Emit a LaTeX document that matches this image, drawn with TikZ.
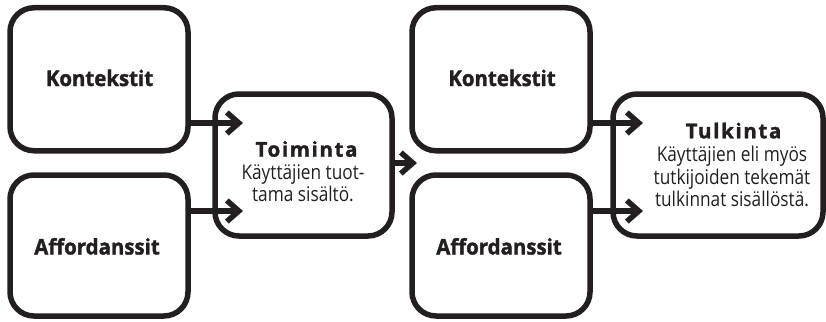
\documentclass[tikz,border=0pt]{standalone}
\usepackage{fontspec}
\setmainfont{Open Sans}
\usetikzlibrary{arrows.meta}
\definecolor{ink}{RGB}{35,31,32}
\begin{document}
\begin{tikzpicture}[x=1pt,y=-1pt,
  box/.style={draw=ink, line width=5.5pt, rounded corners=24pt, inner sep=0pt, minimum width=178pt, minimum height=143pt},
  conn/.style={draw=ink, line width=5.5pt, -{Straight Barb[length=12pt,width=21pt]}},
  bigtxt/.style={text=ink, anchor=base, inner sep=0pt, font=\fontsize{21.5}{24}\selectfont\bfseries\addfontfeatures{FakeBold=1.5,FakeStretch=0.95}},
  ttl/.style={text=ink, anchor=base, inner sep=0pt, font=\fontsize{20.5}{24}\selectfont\bfseries\addfontfeatures{LetterSpace=8,FakeBold=1.5}},
  sub/.style={text=ink, anchor=base, inner sep=0pt, font=\fontsize{20.3}{22}\selectfont\addfontfeatures{FakeStretch=0.85}}]
\useasboundingbox (0,0) rectangle (826,321);
% boxes
\node[box] (kont1) at (99,79.25) {};
\node[box, minimum height=141pt] (aff1) at (99,245.5) {};
\node[box, minimum width=177pt, minimum height=142pt] (toim) at (303.5,165) {};
\node[box] (kont2) at (501,79.25) {};
\node[box, minimum height=141pt] (aff2) at (501,245.5) {};
\node[box, minimum width=210pt, minimum height=142pt] (tulk) at (718,165) {};
% texts
\node[bigtxt] (tk1) at (99.5,86) {Kontekstit};
\node[bigtxt] (ta1) at (97,254.5) {Affordanssit};
\node[bigtxt] (tk2) at (502,86) {Kontekstit};
\node[bigtxt] (ta2) at (499,254.5) {Affordanssit};
\node[ttl] (tt1) at (306.5,156.7) {Toiminta};
\node[sub] (ts1a) at (303,179.3) {Käyttäjien tuot-};
\node[sub] (ts1b) at (303,201.7) {tama sisältö.};
\node[ttl] (tt2) at (733.5,138.3) {Tulkinta};
\node[sub] (ts2a) at (732,161.7) {Käyttäjien eli myös};
\node[sub] (ts2b) at (732,184) {tutkijoiden tekemät};
\node[sub] (ts2c) at (732,206) {tulkinnat sisällöstä.};
% connector ends
\coordinate (p1) at (243,123);
\coordinate (p2) at (243,211);
\coordinate (p3) at (417,163);
\coordinate (p4) at (643,123);
\coordinate (p5) at (643,211);
\draw[conn] (kont1.east |- p1) -- (p1);
\draw[conn] (aff1.east |- p2) -- (p2);
\draw[conn] (toim.east |- p3) -- (p3);
\draw[conn] (kont2.east |- p4) -- (p4);
\draw[conn] (aff2.east |- p5) -- (p5);
\end{tikzpicture}
\end{document}
